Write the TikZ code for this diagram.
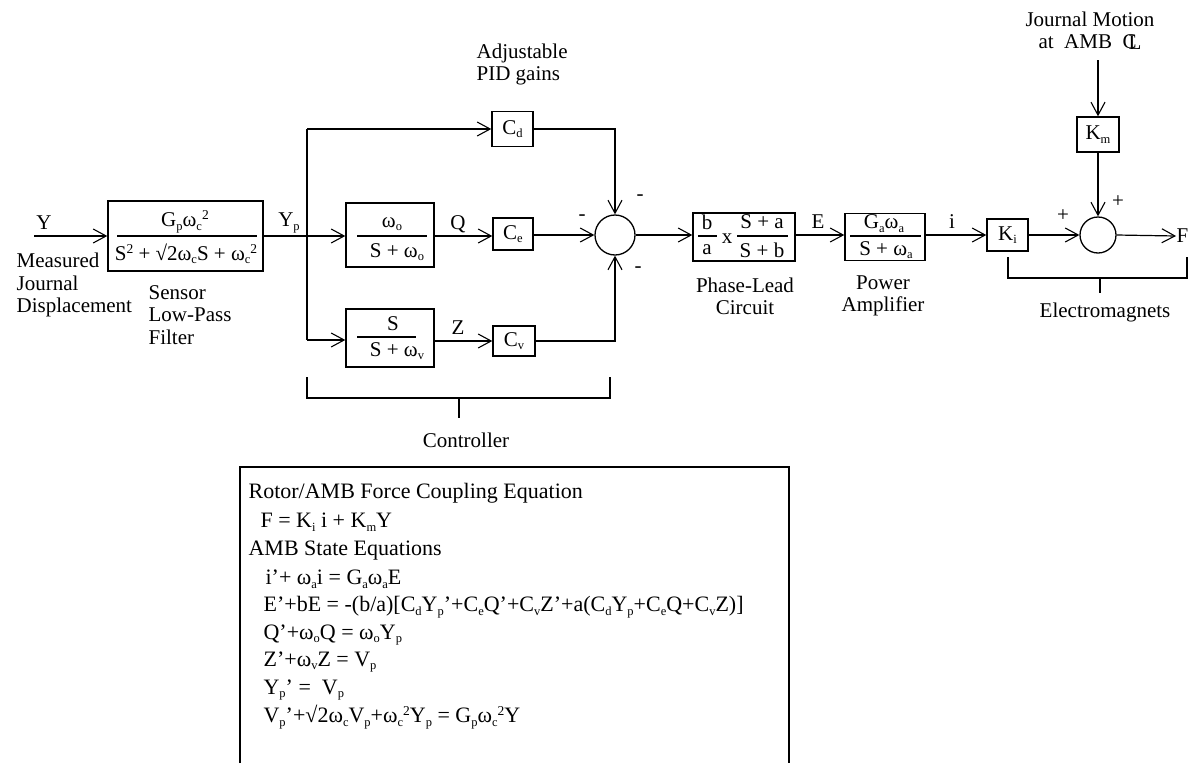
\documentclass[tikz,border=0pt]{standalone}
\usepackage{fontspec}
\setmainfont{Liberation Serif}
\usetikzlibrary{arrows.meta}
\newcommand\sub[1]{\raisebox{-3.5pt}{\fontsize{12.5}{12.5}\selectfont #1}}
\newcommand\sps[1]{\raisebox{7pt}{\fontsize{13.5}{13.5}\selectfont #1}}
\newcommand\cl{C\kern-0.38em\raisebox{-1pt}{L}}
\begin{document}
\begin{tikzpicture}[x=1pt,y=-1pt,
  font=\fontsize{21}{23}\selectfont,
  line width=1.2pt,
  blk/.style={draw, inner sep=0pt, line width=1.4pt},
  lbl/.style={inner sep=0pt},
  eqn/.style={inner sep=0pt, anchor=west, font=\fontsize{22}{23}\selectfont},
  arr/.style={-{Straight Barb[length=13pt,width=14pt,line width=1.1pt]}},
  sumnode/.style={draw, circle, inner sep=0pt, line width=1.3pt},
  multi/.style={inner sep=0pt, align=left, font=\fontsize{21}{22.5}\selectfont},
  multic/.style={inner sep=0pt, align=center, font=\fontsize{21}{22}\selectfont}]
\useasboundingbox (0,0) rectangle (1204,763);

% ---- input and sensor filter
\node[lbl] (Y) at (44,223) {Y};
\coordinate (Yin) at (34,236);
\node[blk, minimum width=155pt, minimum height=70pt] (flt) at (185.5,236) {};
\node[lbl] (fltn) at (185,222) {G\sub{p}ω\sub{c}\sps{2}};
\node[lbl] (fltd) at (186,254) {S\sps{2} + √2ω\sub{c}S + ω\sub{c}\sps{2}};
\draw (117,236) -- (257,236);
\draw[arr] (Yin) -- (flt.west |- Yin);
\node[multi, anchor=west] (mjd) at (16,285) {Measured\\Journal\\Displacement};
\node[multi, anchor=west] (slp) at (148,315) {Sensor\\Low-Pass\\Filter};

% ---- controller branches
\node[lbl] (Yp) at (289,223) {Y\sub{p}};
\coordinate (j0) at (307,236);
\coordinate (jt) at (307,129);
\coordinate (jb) at (307,340);

\node[blk, minimum width=88pt, minimum height=64pt] (wo) at (390,235) {};
\node[lbl] (won) at (392,224) {ω\sub{o}};
\node[lbl] (wod) at (397,252) {S + ω\sub{o}};
\draw (357,236) -- (427,236);

\node[blk, minimum width=88pt, minimum height=58pt] (sv) at (390,338) {};
\node[lbl] (svn) at (393,324) {S};
\node[lbl] (svd) at (397,351) {S + ω\sub{v}};
\draw (357,337) -- (416,337);

\node[blk, minimum width=41pt, minimum height=35pt] (cd) at (512.5,129) {C\sub{d}};
\node[blk, minimum width=40pt, minimum height=32pt] (ce) at (513,234) {C\sub{e}};
\node[blk, minimum width=42pt, minimum height=30pt] (cv) at (514,341) {C\sub{v}};
\node[lbl] (Q) at (458,224) {Q};
\node[lbl] (Z) at (458,328) {Z};
\node[multi, anchor=west] (pid) at (476,64.5) {Adjustable\\PID gains};

\node[sumnode, minimum size=40pt] (s1) at (615,235) {};
\node[lbl] (m1) at (582,218) {-};
\node[lbl] (m2) at (640,198) {-};
\node[lbl] (m3) at (638,270) {-};

\draw (flt.east |- j0) -- (j0);
\draw[arr] (j0) -- (wo.west |- j0);
\draw (jt) -- (jb);
\draw[arr] (jt) -- (cd.west |- jt);
\draw[arr] (jb) -- (sv.west |- jb);
\draw[arr] (wo.east |- j0) -- (ce.west |- j0);
\draw[arr] (sv.east |- cv) -- (cv.west);
\draw[arr] (ce.east |- s1) -- (s1.west);
\draw[arr] (cd.east) -| (s1.north);
\draw[arr] (cv.east) -| (s1.south);

% controller bracket
\draw (307,377) -- (307,398) -- (610,398) -- (610,377);
\draw (459,398) -- (459,418);
\node[lbl] (ctl) at (466,440) {Controller};

% ---- phase lead and amplifier
\node[blk, minimum width=102pt, minimum height=48pt] (pl) at (744,237) {};
\node[lbl] (plb) at (707,222) {b};
\node[lbl] (pla) at (707,250) {a};
\draw (698,236) -- (717,236);
\node[lbl] (plx) at (727,239) {x};
\node[lbl] (pln) at (762,222) {S + a};
\node[lbl] (pld) at (762,250) {S + b};
\draw (737,236) -- (788,236);
\node[multic] (pltxt) at (745,296) {Phase-Lead\\Circuit};

\node[blk, minimum width=80pt, minimum height=47pt] (pa) at (885,237) {};
\node[lbl] (pan) at (884,223.5) {G\sub{a}ω\sub{a}};
\node[lbl] (pad) at (886,250) {S + ω\sub{a}};
\draw (850,236) -- (921,236);
\node[multic] (patxt) at (883,296) {Power\\Amplifier};
\node[lbl] (E) at (818,222) {E};
\node[lbl] (i) at (952,222) {i};

\draw[arr] (s1.east) -- (pl.west |- s1);
\draw[arr] (pl.east |- s1) -- (pa.west |- s1);

% ---- electromagnets
\node[blk, minimum width=41pt, minimum height=32pt] (ki) at (1007.5,235) {K\sub{i}};
\node[blk, minimum width=42pt, minimum height=35pt] (km) at (1098,134.5) {K\sub{m}};
\node[sumnode, minimum size=36pt] (s2) at (1098,235) {};
\node[lbl, anchor=west] (F) at (1176,236) {F};
\node[multic] (jm) at (1090,31) {Journal Motion\\at\ \ AMB\ \ \cl};
\coordinate (jtop) at (1098,60);
\node[lbl] (p1) at (1063,216) {+};
\node[lbl] (p2) at (1118,202) {+};

\draw[arr] (pa.east |- s1) -- (ki.west);
\draw[arr] (ki.east) -- (s2.west);
\draw[arr] (jtop) -- (km.north);
\draw[arr] (km.south) -- (s2.north);
\draw[arr] (s2.east) -- (F.west);

\draw (1008,257) -- (1008,278) -- (1187,278) -- (1187,257);
\draw (1100,278) -- (1100,293);
\node[lbl] (em) at (1105,312) {Electromagnets};

% ---- equations box
\draw[line width=1.4pt] (240,763) -- (240,467) -- (789,467) -- (789,763);
\node[eqn] (h1) at (248,493) {Rotor/AMB Force Coupling Equation};
\node[eqn] (e0) at (260,522) {F = K\sub{i} i + K\sub{m}Y};
\node[eqn] (h2) at (248,551) {AMB State Equations};
\node[eqn] (e1) at (265,579) {i’+ ω\sub{a}i = G\sub{a}ω\sub{a}E};
\node[eqn] (e2) at (263,607) {E’+bE = -(b/a)[C\sub{d}Y\sub{p}’+C\sub{e}Q’+C\sub{v}Z’+a(C\sub{d}Y\sub{p}+C\sub{e}Q+C\sub{v}Z)]};
\node[eqn] (e3) at (263,635) {Q’+ω\sub{o}Q = ω\sub{o}Y\sub{p}};
\node[eqn] (e4) at (263,662) {Z’+ω\sub{v}Z = V\sub{p}};
\node[eqn] (e5) at (263,690) {Y\sub{p}’ =\ \ V\sub{p}};
\node[eqn] (e6) at (263,717) {V\sub{p}’+√2ω\sub{c}V\sub{p}+ω\sub{c}\sps{2}Y\sub{p} = G\sub{p}ω\sub{c}\sps{2}Y};
\end{tikzpicture}
\end{document}
